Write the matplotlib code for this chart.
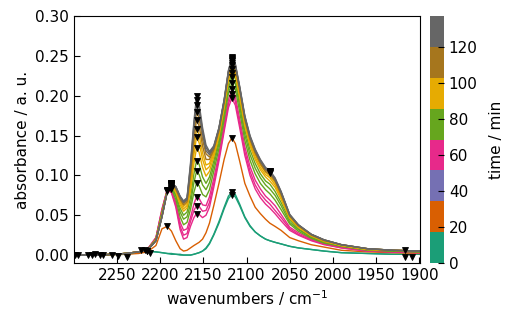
import matplotlib
matplotlib.use("Agg")
import matplotlib.pyplot as plt
from matplotlib.colors import Normalize
from matplotlib.cm import ScalarMappable

#-----------------------------------------------------------------------
# data
#-----------------------------------------------------------------------
wavenumber = [2300, 2270, 2240, 2225, 2215, 2205, 2198, 2192, 2187, 2182,
              2177, 2173, 2169, 2165, 2161, 2158, 2155, 2151, 2147, 2143,
              2138, 2132, 2126, 2121, 2117, 2113, 2108, 2102, 2096, 2090,
              2084, 2078, 2073, 2067, 2060, 2050, 2040, 2025, 2010, 1990,
              1960, 1930, 1898]

times = [0, 6, 22, 53, 58, 64, 70, 76, 82, 88, 94, 100, 106, 114, 122, 130, 136]

a_000 = [0.000, 0.000, 0.002, 0.004, 0.005, 0.004, 0.003, 0.002, 0.002, 0.001,
         0.001, 0.000, 0.000, 0.000, 0.001, 0.002, 0.003, 0.005, 0.009, 0.015,
         0.026, 0.042, 0.060, 0.074, 0.079, 0.076, 0.064, 0.048, 0.037, 0.029,
         0.024, 0.020, 0.018, 0.016, 0.014, 0.011, 0.009, 0.007, 0.005, 0.003,
         0.002, 0.001, 0.001]
a_006 = [0.000, 0.000, 0.001, 0.003, 0.005, 0.004, 0.003, 0.002, 0.001, 0.001,
         0.000, 0.000, 0.000, 0.000, 0.001, 0.002, 0.003, 0.005, 0.008, 0.014,
         0.025, 0.040, 0.058, 0.071, 0.076, 0.073, 0.062, 0.047, 0.036, 0.029,
         0.024, 0.020, 0.018, 0.016, 0.014, 0.011, 0.009, 0.007, 0.005, 0.003,
         0.002, 0.001, 0.001]
a_022 = [0.000, 0.000, 0.001, 0.002, 0.004, 0.012, 0.033, 0.036, 0.030, 0.018,
         0.008, 0.005, 0.006, 0.009, 0.012, 0.014, 0.016, 0.020, 0.028, 0.040,
         0.062, 0.090, 0.120, 0.140, 0.147, 0.140, 0.118, 0.090, 0.074, 0.060,
         0.052, 0.045, 0.040, 0.036, 0.031, 0.022, 0.018, 0.013, 0.010, 0.006,
         0.004, 0.003, 0.002]
a_053 = [0.000, 0.000, 0.002, 0.004, 0.007, 0.022, 0.058, 0.082, 0.078, 0.060,
         0.032, 0.020, 0.022, 0.036, 0.047, 0.052, 0.051, 0.047, 0.050, 0.060,
         0.085, 0.118, 0.155, 0.185, 0.197, 0.188, 0.160, 0.125, 0.100, 0.083,
         0.072, 0.064, 0.059, 0.052, 0.043, 0.031, 0.025, 0.018, 0.013, 0.009,
         0.005, 0.004, 0.003]
a_058 = [0.000, 0.000, 0.002, 0.004, 0.007, 0.022, 0.057, 0.082, 0.079, 0.063,
         0.036, 0.025, 0.027, 0.042, 0.056, 0.062, 0.061, 0.055, 0.056, 0.066,
         0.090, 0.122, 0.159, 0.190, 0.202, 0.193, 0.165, 0.130, 0.105, 0.088,
         0.077, 0.069, 0.064, 0.056, 0.047, 0.033, 0.026, 0.019, 0.014, 0.009,
         0.005, 0.004, 0.003]
a_064 = [0.000, 0.000, 0.002, 0.004, 0.007, 0.021, 0.056, 0.081, 0.081, 0.066,
         0.041, 0.031, 0.033, 0.047, 0.064, 0.073, 0.071, 0.063, 0.062, 0.073,
         0.096, 0.127, 0.164, 0.195, 0.208, 0.199, 0.171, 0.136, 0.111, 0.094,
         0.083, 0.074, 0.069, 0.062, 0.051, 0.035, 0.028, 0.020, 0.014, 0.010,
         0.006, 0.004, 0.003]
a_070 = [0.000, 0.000, 0.002, 0.004, 0.007, 0.020, 0.054, 0.081, 0.083, 0.070,
         0.048, 0.038, 0.041, 0.057, 0.079, 0.090, 0.087, 0.076, 0.073, 0.082,
         0.105, 0.134, 0.170, 0.203, 0.216, 0.208, 0.180, 0.144, 0.119, 0.102,
         0.090, 0.082, 0.077, 0.069, 0.057, 0.039, 0.030, 0.021, 0.015, 0.011,
         0.006, 0.005, 0.004]
a_076 = [0.000, 0.000, 0.002, 0.004, 0.006, 0.020, 0.053, 0.080, 0.084, 0.074,
         0.054, 0.045, 0.048, 0.064, 0.091, 0.105, 0.101, 0.088, 0.082, 0.091,
         0.112, 0.140, 0.176, 0.209, 0.224, 0.215, 0.187, 0.151, 0.126, 0.109,
         0.097, 0.088, 0.083, 0.075, 0.062, 0.041, 0.032, 0.022, 0.016, 0.011,
         0.007, 0.005, 0.004]
a_082 = [0.000, 0.000, 0.002, 0.004, 0.006, 0.019, 0.052, 0.080, 0.086, 0.076,
         0.059, 0.050, 0.054, 0.072, 0.102, 0.118, 0.114, 0.098, 0.090, 0.098,
         0.118, 0.145, 0.180, 0.215, 0.229, 0.221, 0.193, 0.157, 0.132, 0.115,
         0.102, 0.093, 0.089, 0.080, 0.066, 0.044, 0.033, 0.023, 0.017, 0.012,
         0.007, 0.005, 0.004]
a_088 = [0.000, 0.000, 0.002, 0.004, 0.006, 0.019, 0.051, 0.080, 0.087, 0.079,
         0.063, 0.055, 0.059, 0.080, 0.115, 0.134, 0.129, 0.110, 0.099, 0.105,
         0.123, 0.149, 0.184, 0.219, 0.234, 0.226, 0.198, 0.162, 0.137, 0.120,
         0.107, 0.098, 0.093, 0.085, 0.070, 0.046, 0.035, 0.024, 0.017, 0.012,
         0.007, 0.006, 0.005]
a_094 = [0.000, 0.000, 0.002, 0.004, 0.006, 0.019, 0.050, 0.080, 0.088, 0.081,
         0.066, 0.058, 0.062, 0.087, 0.126, 0.148, 0.141, 0.120, 0.107, 0.111,
         0.127, 0.152, 0.187, 0.223, 0.238, 0.230, 0.202, 0.165, 0.140, 0.123,
         0.110, 0.101, 0.097, 0.088, 0.073, 0.047, 0.035, 0.024, 0.018, 0.012,
         0.007, 0.006, 0.005]
a_100 = [0.000, 0.000, 0.002, 0.004, 0.006, 0.019, 0.049, 0.079, 0.088, 0.082,
         0.068, 0.061, 0.065, 0.093, 0.134, 0.158, 0.151, 0.128, 0.113, 0.115,
         0.130, 0.154, 0.189, 0.225, 0.241, 0.233, 0.205, 0.168, 0.143, 0.126,
         0.113, 0.104, 0.099, 0.091, 0.075, 0.048, 0.036, 0.025, 0.018, 0.012,
         0.008, 0.006, 0.005]
a_106 = [0.000, 0.000, 0.002, 0.004, 0.006, 0.018, 0.049, 0.079, 0.089, 0.083,
         0.070, 0.063, 0.067, 0.099, 0.144, 0.170, 0.162, 0.137, 0.120, 0.120,
         0.132, 0.156, 0.191, 0.227, 0.243, 0.235, 0.207, 0.170, 0.145, 0.128,
         0.115, 0.105, 0.101, 0.093, 0.076, 0.049, 0.037, 0.025, 0.018, 0.013,
         0.008, 0.006, 0.005]
a_114 = [0.000, 0.000, 0.002, 0.004, 0.006, 0.018, 0.049, 0.079, 0.089, 0.084,
         0.072, 0.065, 0.069, 0.105, 0.152, 0.180, 0.172, 0.145, 0.127, 0.123,
         0.134, 0.158, 0.193, 0.229, 0.245, 0.237, 0.209, 0.172, 0.147, 0.130,
         0.117, 0.107, 0.103, 0.094, 0.078, 0.050, 0.037, 0.026, 0.019, 0.013,
         0.008, 0.006, 0.005]
a_122 = [0.000, 0.000, 0.002, 0.004, 0.006, 0.018, 0.048, 0.079, 0.090, 0.085,
         0.073, 0.066, 0.070, 0.109, 0.159, 0.188, 0.180, 0.152, 0.131, 0.126,
         0.135, 0.159, 0.194, 0.230, 0.246, 0.238, 0.210, 0.173, 0.148, 0.131,
         0.118, 0.108, 0.104, 0.095, 0.079, 0.050, 0.038, 0.026, 0.019, 0.013,
         0.008, 0.006, 0.005]
a_130 = [0.000, 0.000, 0.002, 0.004, 0.006, 0.018, 0.048, 0.079, 0.090, 0.086,
         0.073, 0.067, 0.071, 0.112, 0.164, 0.194, 0.185, 0.156, 0.135, 0.128,
         0.136, 0.159, 0.194, 0.231, 0.247, 0.239, 0.211, 0.174, 0.149, 0.132,
         0.119, 0.109, 0.105, 0.096, 0.079, 0.051, 0.038, 0.026, 0.019, 0.013,
         0.008, 0.006, 0.005]
a_136 = [0.000, 0.000, 0.002, 0.004, 0.006, 0.018, 0.048, 0.079, 0.090, 0.086,
         0.074, 0.068, 0.072, 0.115, 0.168, 0.199, 0.190, 0.160, 0.138, 0.130,
         0.137, 0.160, 0.195, 0.232, 0.248, 0.240, 0.212, 0.175, 0.150, 0.133,
         0.120, 0.110, 0.106, 0.097, 0.080, 0.051, 0.038, 0.026, 0.019, 0.013,
         0.008, 0.006, 0.005]

spectra = [a_000, a_006, a_022, a_053, a_058, a_064, a_070, a_076, a_082,
           a_088, a_094, a_100, a_106, a_114, a_122, a_130, a_136]

# shoulder picked only on the late spectra
shoulder_w = 2073
shoulder_from = 114

# small peaks picked in the baseline noise
noise_w = [2299, 2295, 2284, 2279, 2276, 2270, 2266, 2256, 2249, 2238,
           2222, 2218, 2212, 1916, 1916, 1908]
noise_a = [0.000, 0.000, 0.000, 0.000, 0.001, 0.000, 0.000, 0.000, -0.001, -0.002,
           0.006, 0.006, 0.003, 0.006, -0.002, -0.002]

time_max = 137
cbar_ticks = [0, 20, 40, 60, 80, 100, 120]

#-----------------------------------------------------------------------
# figure
#-----------------------------------------------------------------------
plt.rcParams['font.family'] = 'DejaVu Sans'
plt.rcParams['font.size'] = 11

cmap = plt.get_cmap('Dark2')
norm = Normalize(vmin=0, vmax=time_max)

fig = plt.figure(figsize=(5.12, 3.2), dpi=100)
ax = fig.add_axes([0.1445, 0.178, 0.6758, 0.772])
cax = fig.add_axes([0.840, 0.178, 0.027, 0.772])

peak_x = []
peak_y = []
for t, a in zip(times, spectra):
    ax.plot(wavenumber, a, color=cmap(norm(t)), lw=1.0)
    # local maxima of each spectrum
    for i in range(1, len(a) - 1):
        if a[i] > a[i - 1] and a[i] >= a[i + 1]:
            peak_x.append(wavenumber[i])
            peak_y.append(a[i])
    if t >= shoulder_from:
        j = wavenumber.index(shoulder_w)
        peak_x.append(wavenumber[j])
        peak_y.append(a[j])

ax.plot(peak_x + noise_w, peak_y + noise_a, 'v', color='k', ms=4, mew=0.6,
        linestyle='none')

ax.set_xlim(2300, 1899)
ax.set_ylim(-0.01, 0.30)
ax.set_xticks([2250, 2200, 2150, 2100, 2050, 2000, 1950, 1900])
ax.set_yticks([0.00, 0.05, 0.10, 0.15, 0.20, 0.25, 0.30])
ax.yaxis.set_major_formatter(matplotlib.ticker.FormatStrFormatter('%.2f'))
ax.tick_params(direction='in', length=4, labelsize=11)
ax.set_xlabel('wavenumbers / cm$^{-1}$', fontsize=11)
ax.set_ylabel('absorbance / a. u.', fontsize=11)

# colorbar
sm = ScalarMappable(norm=norm, cmap=cmap)
cb = fig.colorbar(sm, cax=cax, ticks=cbar_ticks)
cb.outline.set_visible(False)
cb.ax.tick_params(direction='in', length=4, labelsize=11)
cb.set_label('time / min', fontsize=11, labelpad=8)

fig.savefig('out.png', dpi=100)
